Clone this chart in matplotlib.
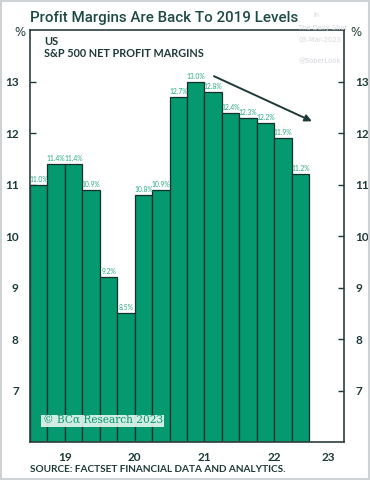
"""
S&P 500 net profit margins, quarterly bars (BCA style)
"""
import matplotlib
matplotlib.use("Agg")
import matplotlib.pyplot as plt
import numpy as np

# quarterly net profit margins, % (2018Q3 .. 2022Q2)
margins = [11.0, 11.4, 11.4, 10.9, 9.2, 8.5, 10.8, 10.9,
           12.7, 13.0, 12.8, 12.4, 12.3, 12.2, 11.9, 11.2]
year_ticks = [2, 6, 10, 14, 17.1]
year_labels = ["19", "20", "21", "22", "23"]
y_ticks = [7, 8, 9, 10, 11, 12, 13]

GREEN = "#05996f"
EDGE = "#15302c"
TEAL_TXT = "#2aa882"
DARK = "#1d3a38"

fig = plt.figure(figsize=(3.7, 4.8), dpi=100)
ax = fig.add_axes([0.081, 0.079, 0.849, 0.858])

x = np.arange(len(margins))
ax.bar(x, np.array(margins) - 6, bottom=6, width=1.0, align="edge",
       color=GREEN, edgecolor=EDGE, linewidth=0.9, zorder=2)

for xi, v in zip(x, margins):
    ax.text(xi + 0.5, v + 0.04, f"{v:.1f}%", ha="center", va="bottom",
            fontsize=4.9, color=TEAL_TXT, family="Lato", zorder=3)

ax.set_xlim(0, 18)
ax.set_ylim(6, 14)
ax.set_yticks(y_ticks)
ax.set_xticks(year_ticks)
ax.set_xticklabels(year_labels)
ax.tick_params(axis="x", length=0, pad=7, labelsize=8.5, labelcolor=DARK)
ax.tick_params(axis="y", direction="in", length=4, width=1, color=DARK,
               labelsize=8.5, labelcolor=DARK, left=True, right=True,
               labelleft=True, labelright=True, pad=8)
for lab in ax.get_xticklabels() + ax.get_yticklabels():
    lab.set_fontweight("bold")
    lab.set_family("Lato")
for s in ax.spines.values():
    s.set_color("#2c3e3e")
    s.set_linewidth(1.2)

# "%" unit markers above both axes
fig.text(0.054, 0.932, "%", fontsize=8.5, color=DARK, ha="center", va="center")
fig.text(0.962, 0.932, "%", fontsize=8.5, color=DARK, ha="center", va="center")

# trend arrow
ax.annotate("", xy=(16.3, 12.21), xytext=(10.4, 13.13),
            arrowprops=dict(arrowstyle="-|>", color=DARK, lw=1.4,
                            mutation_scale=10))

ax.text(0.045, 0.986, "US", transform=ax.transAxes, fontsize=8,
        color=DARK, family="Lato", fontweight="bold", va="top")
ax.text(0.045, 0.958, "S&P 500 NET PROFIT MARGINS", transform=ax.transAxes,
        fontsize=7.8, color=DARK, family="Lato", fontweight="bold", va="top")

ax.text(0.04, 0.04, "\u00a9 BC\u03b1 Research 2023", transform=ax.transAxes,
        fontsize=7.6, color=GREEN, family="DejaVu Serif", va="bottom",
        bbox=dict(boxstyle="square,pad=0.1", fc="#e8f6f0", ec="none", alpha=0.9),
        zorder=4)

# watermark
for tx, ty, t in [(0.848, 0.968, "in"), (0.806, 0.942, "The Daily Shot"),
                  (0.806, 0.916, "03-Mar-2023"), (0.806, 0.872, "@SoberLook")]:
    fig.text(tx, ty, t, fontsize=4.9, color="#d2d6dc", ha="left", va="center",
             zorder=0)

fig.text(0.081, 0.978, "Profit Margins Are Back To 2019 Levels", fontsize=10.9,
         color="#1e4a46", family="Roboto", fontweight="medium", va="top",
         zorder=3)
fig.text(0.081, 0.022, "SOURCE: FACTSET FINANCIAL DATA AND ANALYTICS.",
         fontsize=7.2, color=DARK, family="Lato", fontweight="bold", va="center")

fig.patches.append(plt.Rectangle((0.002, 0.002), 0.996, 0.996,
                                 transform=fig.transFigure, fill=False,
                                 ec="#cfd2d4", lw=1.5))

fig.savefig("out.png", dpi=100)
